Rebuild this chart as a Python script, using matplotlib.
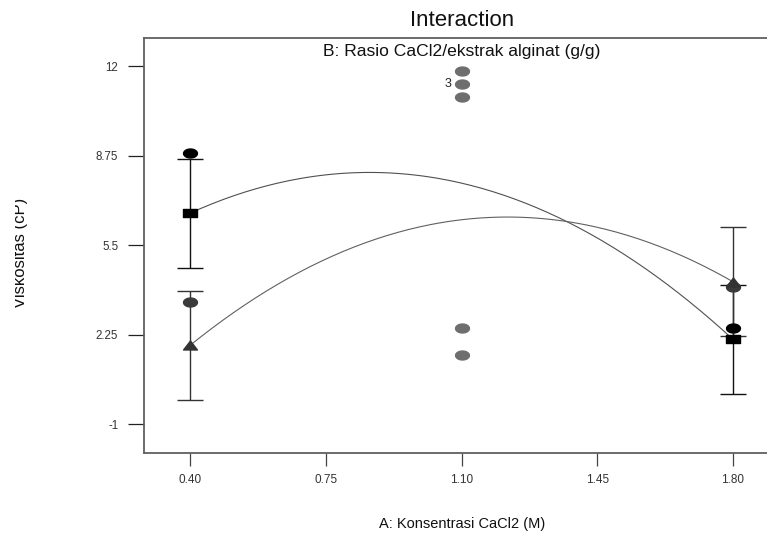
import numpy as np
import matplotlib
matplotlib.use("Agg")
import matplotlib.pyplot as plt
from matplotlib.path import Path
from matplotlib.transforms import Bbox

plt.rcParams['font.family'] = ['Liberation Sans', 'DejaVu Sans']

# ---- data ----
a_levels = [0.40, 1.10, 1.80]
b1_pred = [6.67, 7.76, 2.09]   # squares
b2_pred = [1.87, 6.43, 4.18]   # triangles
lsd_half = 1.98
b1_pts_x = [0.40, 1.80]
b1_pts_y = [8.87, 2.49]
b2_pts_x = [0.40, 1.80]
b2_pts_y = [3.46, 3.98]
ctr_pts_x = [1.10, 1.10, 1.10, 1.10, 1.10]
ctr_pts_y = [11.84, 11.35, 10.87, 2.49, 1.52]
ctr_count_label = "3"
ctr_count_y = 11.35
xticks = [0.40, 0.75, 1.10, 1.45, 1.80]
xticklabels = ["0.40", "0.75", "1.10", "1.45", "1.80"]
yticks = [-1, 2.25, 5.5, 8.75, 12]
yticklabels = ["-1", "2.25", "5.5", "8.75", "12"]

# ---- custom wide markers ----
asp = 1.55
t = np.linspace(0, 2 * np.pi, 40)
ellipse = Path(np.column_stack([asp * np.cos(t), np.sin(t)]), closed=True)
rect = Path([(-asp, -1), (asp, -1), (asp, 1), (-asp, 1), (-asp, -1)], closed=True)
tri = Path([(-asp, -1), (asp, -1), (0, 1), (-asp, -1)], closed=True)

W, H = 767, 543
fig = plt.figure(figsize=(W / 100, H / 100), dpi=100)
ax = fig.add_axes([144 / W, 1 - 452.7 / H, (779 - 144) / W, (452.7 - 38) / H])
ax.set_xlim(0.281, 1.919)
ax.set_ylim(-2.03, 13.03)

xs = np.linspace(0.40, 1.80, 200)
c1 = np.polyfit(a_levels, b1_pred, 2)
c2 = np.polyfit(a_levels, b2_pred, 2)
ax.plot(xs, np.polyval(c1, xs), color='#505050', lw=0.8, zorder=2)
ax.plot(xs, np.polyval(c2, xs), color='#606060', lw=0.8, zorder=2)

ends_x = [a_levels[0], a_levels[-1]]
b1_end = [b1_pred[0], b1_pred[-1]]
b2_end = [b2_pred[0], b2_pred[-1]]
ax.errorbar(ends_x, b1_end, yerr=lsd_half, fmt='none', ecolor='#111111',
            elinewidth=1.0, capsize=9.5, capthick=1.0, zorder=3)
ax.errorbar(ends_x, b2_end, yerr=lsd_half, fmt='none', ecolor='#333333',
            elinewidth=1.0, capsize=9.5, capthick=1.0, zorder=3)

ms = 10
ax.plot(ends_x, b1_end, ls='none', marker=rect, ms=ms, color='black', zorder=5)
ax.plot(ends_x, b2_end, ls='none', marker=tri, ms=ms, color='#333333', zorder=5)

ax.plot(b1_pts_x, b1_pts_y, ls='none', marker=ellipse, ms=ms, color='black', zorder=4)
ax.plot(b2_pts_x, b2_pts_y, ls='none', marker=ellipse, ms=ms, color='#3a3a3a', zorder=4)
ax.plot(ctr_pts_x, ctr_pts_y, ls='none', marker=ellipse, ms=ms, color='#6e6e6e', zorder=4)
ax.annotate(ctr_count_label, (1.10, ctr_count_y), xytext=(-10, 0), textcoords='offset points',
            ha='center', va='center', fontsize=9, color='#222222')

ax.set_xticks(xticks)
ax.set_xticklabels(xticklabels)
ax.set_yticks(yticks)
ax.set_yticklabels(yticklabels)
ax.tick_params(axis='x', direction='out', length=9, width=0.9, colors='#444444',
               labelsize=8.5, labelcolor='#333333', pad=6)
ax.tick_params(axis='y', direction='out', length=11.5, width=0.9, colors='#222222',
               labelsize=8.3, labelcolor='#333333', pad=7)
for s in ['left', 'top', 'bottom', 'right']:
    ax.spines[s].set_color('#606060')
    ax.spines[s].set_linewidth(1.3)

ax.text(0.5, 0.985, "B: Rasio CaCl2/ekstrak alginat (g/g)", transform=ax.transAxes,
        ha='center', va='top', fontsize=12.6, color='#111111')
fig.text(462 / W, 1 - 20 / H, "Interaction", ha='center', va='center',
         fontsize=16, color='#111111')
fig.text(462 / W, 1 - 524 / H, "A: Konsentrasi CaCl2 (M)", ha='center', va='center',
         fontsize=10.5, color='#111111')
ylab = fig.text(21 / W, 1 - 253 / H, "Viskositas (cP)", ha='center', va='center',
                rotation=90, fontsize=12, color='#111111')
ylab.set_clip_box(Bbox.from_extents(14.5, 0, W, H))
ylab.set_clip_on(True)

fig.savefig("out.png", dpi=100)
